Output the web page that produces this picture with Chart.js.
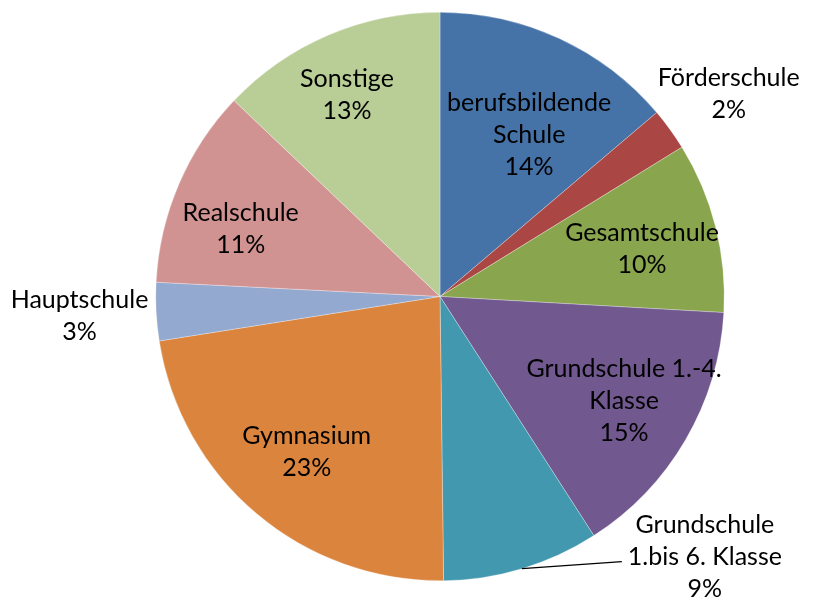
<!DOCTYPE html>
<html>
<head>
<meta charset="utf-8">
<script src="https://cdn.jsdelivr.net/npm/chart.js@4/dist/chart.umd.min.js"></script>
<style>
html,body{margin:0;padding:0;background:#fff;}
#wrap{width:815px;height:602px;position:relative;}
</style>
</head>
<body>
<div id="wrap"><canvas id="c" width="815" height="602"></canvas></div>
<script>
const categories = [
  "berufsbildende Schule",
  "Förderschule",
  "Gesamtschule",
  "Grundschule 1.-4. Klasse",
  "Grundschule 1.bis 6. Klasse",
  "Gymnasium",
  "Hauptschule",
  "Realschule",
  "Sonstige"
];
const shares = [13.8, 2.4, 9.7, 15.0, 8.9, 22.7, 3.3, 11.3, 12.9];
const labelLines = [
  ["berufsbildende", "Schule"],
  ["Förderschule"],
  ["Gesamtschule"],
  ["Grundschule 1.-4.", "Klasse"],
  ["Grundschule", "1.bis 6. Klasse"],
  ["Gymnasium"],
  ["Hauptschule"],
  ["Realschule"],
  ["Sonstige"]
];
const colors = ["#4572A7","#AA4643","#89A54E","#71588F","#4198AF","#DB843D","#93A9CF","#D19392","#B9CD96"];

// label placement: [radius factor, angle offset (deg)]; null = outside with leader line
const labelPlace = [
  [0.65, 4], [1.24, 1], [0.73, 1], [0.745, -0.6], null, [0.72, 0.5], [1.27, 0], [0.74, -4.6], [0.78, -1.6]
];

const FONT = "25px Lato";
const LINE_H = 32;

const labelPlugin = {
  id: 'pieLabels',
  afterDatasetsDraw(chart) {
    const ctx = chart.ctx;
    const meta = chart.getDatasetMeta(0);
    const total = shares.reduce((a,b)=>a+b,0);
    ctx.save();
    ctx.font = FONT;
    ctx.fillStyle = "#000";
    ctx.textAlign = "center";
    ctx.textBaseline = "middle";
    meta.data.forEach((arc, i) => {
      const pct = Math.round(shares[i] / total * 100) + "%";
      const lines = labelLines[i].concat([pct]);
      const mid = (arc.startAngle + arc.endAngle) / 2;
      let cx, cy;
      if (labelPlace[i]) {
        const a = mid + labelPlace[i][1] * Math.PI / 180;
        const r = arc.outerRadius * labelPlace[i][0];
        cx = arc.x + Math.cos(a) * r;
        cy = arc.y + Math.sin(a) * r;
      } else {
        const px = arc.x + Math.cos(mid) * arc.outerRadius;
        const py = arc.y + Math.sin(mid) * arc.outerRadius;
        const ex = px + 100, ey = py - 7;
        ctx.strokeStyle = "#000";
        ctx.lineWidth = 1.2;
        ctx.beginPath();
        ctx.moveTo(px, py);
        ctx.lineTo(ex, ey);
        ctx.stroke();
        cx = ex + 83;
        cy = ey - 5;
      }
      const top = cy - (lines.length - 1) * LINE_H / 2;
      lines.forEach((t, k) => ctx.fillText(t, cx, top + k * LINE_H));
    });
    ctx.restore();
  }
};

new Chart(document.getElementById('c'), {
  type: 'pie',
  data: {
    labels: categories,
    datasets: [{
      data: shares,
      backgroundColor: colors,
      borderWidth: 0.5,
      borderColor: "rgba(255,255,255,0.6)"
    }]
  },
  options: {
    responsive: false,
    animation: false,
    layout: { padding: { left: 65, right: 0, top: 12, bottom: 21 } },
    plugins: {
      legend: { display: false },
      tooltip: { enabled: false }
    }
  },
  plugins: [labelPlugin]
});
</script>
</body>
</html>
